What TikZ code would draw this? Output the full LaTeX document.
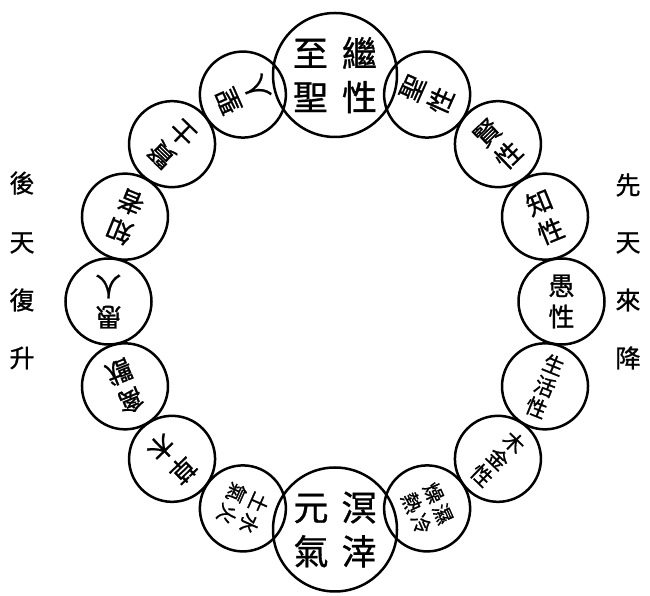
\documentclass[tikz,border=0pt]{standalone}
\usepackage{fontspec}
\newfontfamily\cjk[FakeBold=0.9]{Noto Sans CJK TC}
\usetikzlibrary{calc}
\begin{document}
\begin{tikzpicture}[x=1pt,y=1pt,
  ring/.style={circle,draw=black,line width=2.5pt,inner sep=0pt,align=center},
  bigc/.style={ring,minimum size=124pt,font=\cjk\fontsize{35}{44}\selectfont},
  twoc/.style={ring,minimum size=86pt,font=\cjk\fontsize{26}{31}\selectfont},
  threec/.style={ring,minimum size=86pt,font=\cjk\fontsize{21}{23}\selectfont},
  fourc/.style={ring,minimum size=86pt,font=\cjk\fontsize{20}{24}\selectfont},
  side/.style={inner sep=0pt,font=\cjk\fontsize{25}{25}\selectfont}]
\fill[white] (0,0) rectangle (650,596);
\useasboundingbox (0,0) rectangle (650,596);
\coordinate (C) at (335,294.5);
% big circles
\node[bigc] (top) at ($(C)+(90:226.5)$) {至\hspace{14pt}繼\\聖\hspace{14pt}性};
\node[bigc] (bot) at ($(C)+(270:228)$) {元\hspace{13pt}溟\\氣\hspace{13pt}涬};
% right side
\node[twoc,rotate=66] (r1) at ($(C)+(66:226.5)$) {聖\\性};
\node[twoc,rotate=44] (r2) at ($(C)+(44:226.5)$) {賢\\性};
\node[twoc,rotate=22] (r3) at ($(C)+(22:226.5)$) {知\\性};
\node[twoc,rotate=0] (r4) at ($(C)+(0:226.5)$) {愚\\性};
\node[threec,rotate=-22] (r5) at ($(C)+(-22:226.5)$) {生\\活\\性};
\node[threec,rotate=-44] (r6) at ($(C)+(-44:226.5)$) {木\\金\\性};
\node[fourc,rotate=-66] (r7) at ($(C)+(-66:226.5)$) {燥\hspace{3pt}濕\\熱\hspace{3pt}冷};
% left side
\node[twoc,rotate=114] (l1) at ($(C)+(114:226.5)$) {聖\\人};
\node[twoc,rotate=136] (l2) at ($(C)+(136:226.5)$) {賢\\士};
\node[twoc,rotate=158] (l3) at ($(C)+(158:226.5)$) {知\\者};
\node[twoc,rotate=180] (l4) at ($(C)+(180:226.5)$) {愚\\人};
\node[twoc,rotate=202] (l5) at ($(C)+(202:226.5)$) {禽\\獸};
\node[twoc,rotate=224] (l6) at ($(C)+(224:226.5)$) {草\\木};
\node[fourc,rotate=246] (l7) at ($(C)+(246:226.5)$) {土\hspace{3pt}水\\氣\hspace{3pt}火};
% side texts
\node[side] (a1) at (628,411) {先};
\node[side] (a2) at (628,353) {天};
\node[side] (a3) at (628,296) {來};
\node[side] (a4) at (628,238) {降};
\node[side] (b1) at (22,413) {後};
\node[side] (b2) at (22,353) {天};
\node[side] (b3) at (22,296) {復};
\node[side] (b4) at (22,238) {升};
\end{tikzpicture}
\end{document}
